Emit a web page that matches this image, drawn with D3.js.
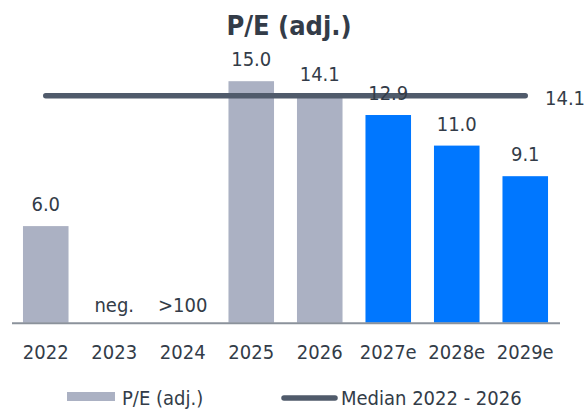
<!DOCTYPE html>
<html>
<head>
<meta charset="utf-8">
<script src="https://cdn.jsdelivr.net/npm/d3@7"></script>
<style>
  body { margin: 0; background: #fff; }
  text { font-family: "DejaVu Sans Condensed", "DejaVu Sans", sans-serif; font-stretch: condensed; fill: #333c48; }
</style>
</head>
<body>
<div id="chart"></div>
<script>
// donnees
const years = ["2022", "2023", "2024", "2025", "2026", "2027e", "2028e", "2029e"];
const peValues = [6.0, null, null, 15.0, 14.1, 12.9, 11.0, 9.1];
const peLabels = ["6.0", "neg.", ">100", "15.0", "14.1", "12.9", "11.0", "9.1"];
const isEstimate = [false, false, false, false, false, true, true, true];
const median = 14.1;
const medianLabel = "14.1";
const legendLabels = ["P/E (adj.)", "Median 2022 - 2026"];

// dimensions
const W = 587, H = 410;
const baseY = 322.7;
const grey = "#abb1c3", blue = "#0077ff", dark = "#505b6b";

const svg = d3.select("#chart").append("svg")
  .attr("width", W).attr("height", H);

// echelles
const x = d3.scaleBand()
  .domain(years)
  .range([11.5, 559.5])
  .paddingInner(0.335)
  .paddingOuter(0.1675);

const y = d3.scaleLinear()
  .domain([0, 18])
  .range([baseY, baseY - 18 * 16.1]);

// titre
svg.append("text")
  .attr("x", 289).attr("y", 35)
  .attr("text-anchor", "middle")
  .style("font-weight", "bold")
  .style("font-size", "27px")
  .text("P/E (adj.)");

// barres
const data = years.map((d, i) => ({ year: d, v: peValues[i], lab: peLabels[i], est: isEstimate[i] }));

svg.append("g").selectAll("rect")
  .data(data.filter(d => d.v != null))
  .join("rect")
    .attr("x", d => x(d.year))
    .attr("y", d => y(d.v))
    .attr("width", x.bandwidth())
    .attr("height", d => y(0) - y(d.v))
    .attr("fill", d => d.est ? blue : grey);

// axe x
const axis = svg.append("g")
  .attr("transform", `translate(0,${baseY})`)
  .call(d3.axisBottom(x).tickSize(0).tickPadding(22));
axis.select(".domain").attr("stroke", "#8b929b").attr("stroke-width", 2);
axis.selectAll("text")
  .style("font-size", "20px")
  .attr("fill", "#333c48")
  .style("font-family", "\"DejaVu Sans Condensed\", \"DejaVu Sans\", sans-serif");

// ligne mediane
svg.append("line")
  .attr("x1", x(years[0]) + x.bandwidth() / 2)
  .attr("x2", x(years[years.length - 1]) + x.bandwidth() / 2)
  .attr("y1", y(median)).attr("y2", y(median))
  .attr("stroke", dark).attr("stroke-width", 5.5)
  .attr("stroke-linecap", "round");

svg.append("text")
  .attr("x", 545).attr("y", y(median) + 9)
  .style("font-size", "20px")
  .text(medianLabel);

// etiquettes
svg.append("g").selectAll("text")
  .data(data)
  .join("text")
    .attr("x", d => x(d.year) + x.bandwidth() / 2)
    .attr("y", d => d.v != null ? y(d.v) - 15 : y(0) - 11)
    .attr("text-anchor", "middle")
    .style("font-size", "20px")
    .text(d => d.lab);

// legende
const leg = svg.append("g");
leg.append("rect")
  .attr("x", 67).attr("y", 392).attr("width", 48).attr("height", 9)
  .attr("fill", grey);
leg.append("text")
  .attr("x", 122).attr("y", 405)
  .style("font-size", "20px")
  .text(legendLabels[0]);
leg.append("line")
  .attr("x1", 284).attr("x2", 335).attr("y1", 398).attr("y2", 398)
  .attr("stroke", dark).attr("stroke-width", 5.5)
  .attr("stroke-linecap", "round");
leg.append("text")
  .attr("x", 341).attr("y", 405)
  .style("font-size", "20px")
  .text(legendLabels[1]);
</script>
</body>
</html>
